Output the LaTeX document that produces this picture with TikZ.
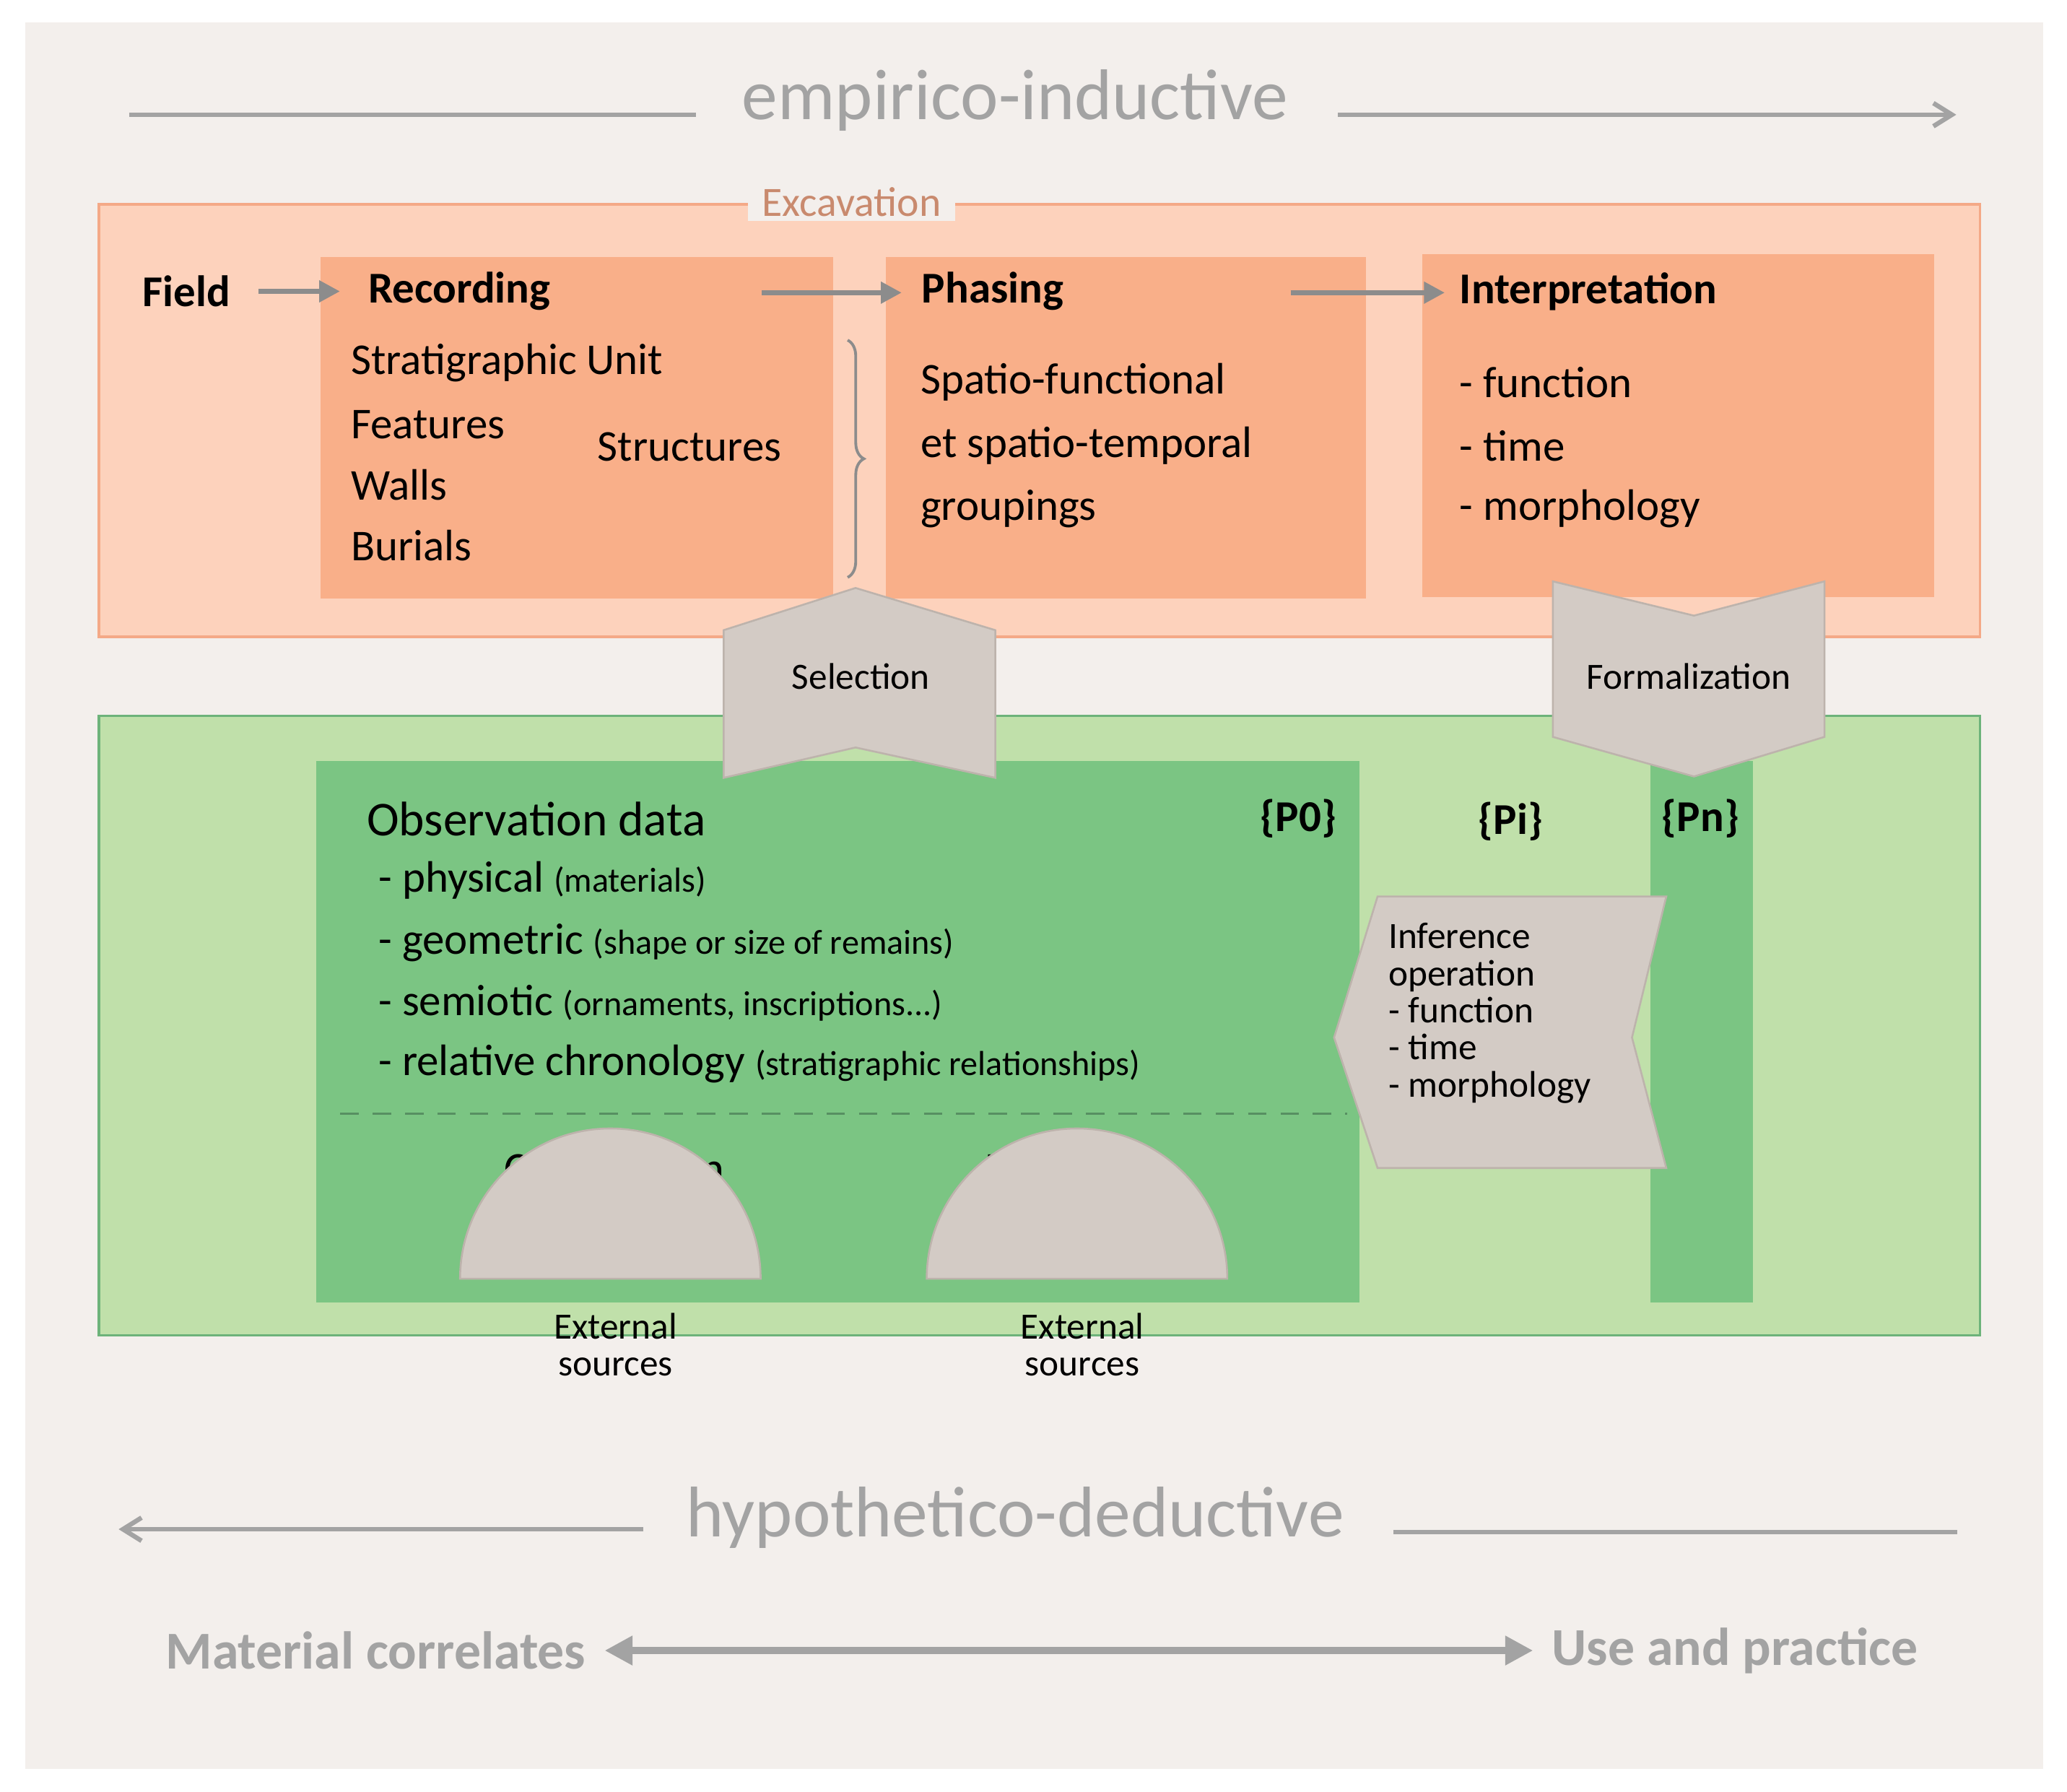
\documentclass[tikz,border=0pt]{standalone}
\usepackage{fontspec}
\setmainfont{Carlito}
\usetikzlibrary{arrows.meta,decorations.pathreplacing}
\definecolor{bgc}{HTML}{F3EFEC}
\definecolor{gtxt}{HTML}{A3A3A3}
\definecolor{orout}{HTML}{FDD2BC}
\definecolor{orbd}{HTML}{F4A987}
\definecolor{orin}{HTML}{F9AF89}
\definecolor{grout}{HTML}{C0E0AA}
\definecolor{grbd}{HTML}{6DB37A}
\definecolor{grin}{HTML}{7BC583}
\definecolor{shp}{HTML}{D3CBC5}
\definecolor{shpbd}{HTML}{BDB3AC}
\definecolor{exc}{HTML}{C98A6E}
\definecolor{arr}{HTML}{8C8C8C}
\newcommand{\fs}[1]{\fontsize{#1}{#1}\selectfont}
\begin{document}
\begin{tikzpicture}[x=0.02cm,y=-0.02cm,
  gline/.style={draw=gtxt,line width=2pt},
  flow/.style={draw=arr,line width=2.2pt,-{Triangle[length=9pt,width=9pt]}},
  body/.style={anchor=west,inner sep=0pt,font=\fs{19}},
  head/.style={anchor=west,inner sep=0pt,font=\fs{19}\bfseries},
  gshp/.style={fill=shp,draw=shpbd,line width=0.8pt},
  big/.style={text=gtxt,inner sep=0pt,font=\fs{31}}]
\fill[white] (0,0) rectangle (1568,1359);
\useasboundingbox (0,0) rectangle (1568,1359);
\fill[bgc] (19,17) rectangle (1550,1342);
% empirico
\node[big] (emp) at (770,76) {empirico-inductive};
\coordinate (e1) at (98,87); \coordinate (e2) at (1484,87);
\draw[gline] (e1) -- (528,87);
\draw[gline,-{Straight Barb[length=8pt,width=10pt]}] (1015,87) -- (e2);
% orange
\draw[fill=orout,draw=orbd,line width=1pt] (75,155) rectangle (1502,483);
\node[fill=bgc,text=exc,font=\fs{18},inner sep=2pt,inner xsep=6pt] (excav) at (646,153) {Excavation};
\fill[orin] (243,195) rectangle (632,454);
\fill[orin] (672,195) rectangle (1036,454);
\fill[orin] (1079,193) rectangle (1467,453);
\node[head] (field) at (108,221) {Field};
\node[head] (rec) at (279,221) {Recording};
\node[head] (pha) at (699,221) {Phasing};
\node[head] (int) at (1107,221) {Interpretation};
\draw[flow] ([xshift=12pt]field.east) -- ([xshift=-12pt]rec.west);
\coordinate (a1) at (578,222); \coordinate (a2) at (684,222);
\coordinate (a3) at (979,222); \coordinate (a4) at (1096,222);
\draw[flow] (a1) -- (a2);
\draw[flow] (a3) -- (a4);
\node[body] (su) at (266,275) {Stratigraphic Unit};
\node[body] (fe) at (266,322) {Features};
\node[body] (wa) at (266,368) {Walls};
\node[body] (bu) at (266,414) {Burials};
\node[body] (st) at (453,339) {Structures};
\draw[arr,line width=1.2pt,decorate,decoration={brace,amplitude=7pt}] (643,258) -- (643,438);
\node[body] (p1) at (698,290) {Spatio-functional};
\node[body] (p2) at (698,338) {et spatio-temporal};
\node[body] (p3) at (698,386) {groupings};
\node[body] (i1) at (1107,290) {- function};
\node[body] (i2) at (1107,338) {- time};
\node[body] (i3) at (1107,386) {- morphology};
% green
\draw[fill=grout,draw=grbd,line width=1pt] (75,543) rectangle (1502,1013);
\fill[grin] (240,577) rectangle (1031,988);
\fill[grin] (1252,577) rectangle (1330,988);
% selection / formalization
\draw[gshp] (549,478) -- (649,446) -- (755,478) -- (755,590) -- (649,567) -- (549,590) -- cycle;
\node[font=\fs{16}] (sel) at (653,513) {Selection};
\draw[gshp] (1178,441) -- (1285,467) -- (1384,441) -- (1384,559) -- (1285,589) -- (1178,559) -- cycle;
\node[font=\fs{16}] (form) at (1281,513) {Formalization};
% observation
\node[body,font=\fs{21}] (obs) at (278,621) {Observation data};
\node[font=\fs{19}\bfseries] (p0) at (985,621) {\{P0\}};
\node[font=\fs{19}\bfseries] (pi) at (1146,623) {\{Pi\}};
\node[font=\fs{19}\bfseries] (pn) at (1290,621) {\{Pn\}};
\node[body] (o1) at (287,668) {- physical {\fs{15}(materials)}};
\node[body] (o2) at (287,715) {- geometric {\fs{15}(shape or size of remains)}};
\node[body] (o3) at (287,761) {- semiotic {\fs{15}(ornaments, inscriptions...)}};
\node[body] (o4) at (287,807) {- relative chronology {\fs{15}(stratigraphic relationships)}};
\coordinate (d1) at (258,845); \coordinate (d2) at (1022,845);
\draw[draw=grbd!80!black,line width=0.9pt,dash pattern=on 8pt off 6pt] (d1) -- (d2);
\node[align=center,font=\fs{19.5}] (cmp) at (466,907) {Comparison\\[4pt]data};
\node[align=center,font=\fs{19.5}] (ref) at (817,907) {Reference\\[4pt]data};
% inference
\draw[gshp] (1045,680) -- (1264,680) -- (1238,787) -- (1264,886) -- (1045,886) -- (1012,787) -- cycle;
\node[anchor=north west,align=left,font=\fs{16},inner sep=0pt] (inf) at (1053,700) {Inference\\operation\\- function\\- time\\- morphology};
% external sources
\draw[gshp] (349,970) arc[start angle=180,end angle=360,radius=114] -- cycle;
\draw[gshp] (703,970) arc[start angle=180,end angle=360,radius=114] -- cycle;
\node[align=center,font=\fs{16}] (ex1) at (467,1020) {External\\sources};
\node[align=center,font=\fs{16}] (ex2) at (821,1020) {External\\sources};
% hypothetico
\node[big] (hyp) at (770,1151) {hypothetico-deductive};
\coordinate (h1) at (90,1160); \coordinate (h2) at (1485,1162);
\draw[gline,-{Straight Barb[length=8pt,width=10pt]}] (488,1160) -- (h1);
\draw[gline] (1057,1162) -- (h2);
% bottom
\node[text=gtxt,font=\fs{23}\bfseries,inner sep=0pt] (mat) at (285,1252) {Material correlates};
\node[text=gtxt,font=\fs{23}\bfseries,inner sep=0pt] (use) at (1316,1252) {Use and practice};
\draw[draw=gtxt,line width=3pt,{Triangle[length=12pt,width=12pt]}-{Triangle[length=12pt,width=12pt]}] ([xshift=8pt]mat.east) -- ([xshift=-8pt]use.west);
\end{tikzpicture}
\end{document}
